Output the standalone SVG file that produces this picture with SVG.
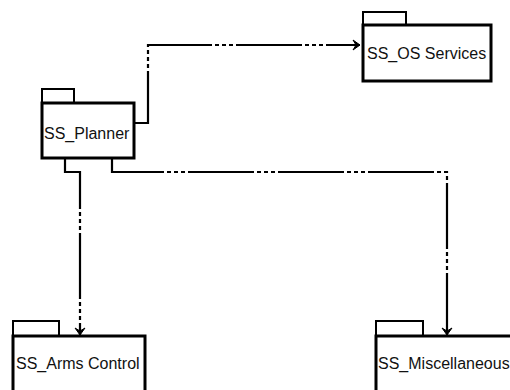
<svg xmlns="http://www.w3.org/2000/svg" width="510" height="390" viewBox="0 0 510 390">
<style>
.box{fill:#fff;stroke:#000;stroke-width:3}
.tab{fill:#fff;stroke:#000;stroke-width:2}
.lbl{font-family:"Liberation Sans",Arial,sans-serif;font-size:16px;fill:#111}
.con{fill:none;stroke:#000;stroke-width:2.2;stroke-dasharray:66 3 4 3 4 3 4 3}
</style>
<defs>
<marker id="ah" markerUnits="userSpaceOnUse" markerWidth="12" markerHeight="12" refX="0" refY="0" viewBox="-9 -6 10 12" orient="auto" overflow="visible">
<path d="M0,0 L-7,-5 L-4,0 L-7,5 z" fill="#000" stroke="#000" stroke-width="1"/>
</marker>
</defs>
<rect width="510" height="390" fill="#fff"/>
<g id="connectors">
<path class="con" d="M134,123 H148 V45 H360" marker-end="url(#ah)"/>
<path class="con" d="M65,158 V172 H80 V335" marker-end="url(#ah)"/>
<path class="con" d="M112,158 V172 H447 V335" marker-end="url(#ah)"/>
</g>
<g id="ss_planner">
<rect class="tab" x="42" y="89" width="32" height="14"/>
<rect class="box" x="42" y="103" width="92" height="55"/>
<text class="lbl" x="44" y="139">SS_Planner</text>
</g>
<g id="ss_os_services">
<rect class="tab" x="363" y="12" width="43" height="13"/>
<rect class="box" x="363" y="25" width="128" height="56"/>
<text class="lbl" x="367" y="59">SS_OS Services</text>
</g>
<g id="ss_arms_control">
<rect class="tab" x="13" y="321" width="46" height="15"/>
<rect class="box" x="13" y="336" width="132" height="60"/>
<text class="lbl" x="16" y="369">SS_Arms Control</text>
</g>
<g id="ss_miscellaneous">
<rect class="tab" x="376" y="321" width="47" height="15"/>
<rect class="box" x="376" y="336" width="150" height="60"/>
<text class="lbl" x="378" y="369">SS_Miscellaneous</text>
</g>
</svg>
